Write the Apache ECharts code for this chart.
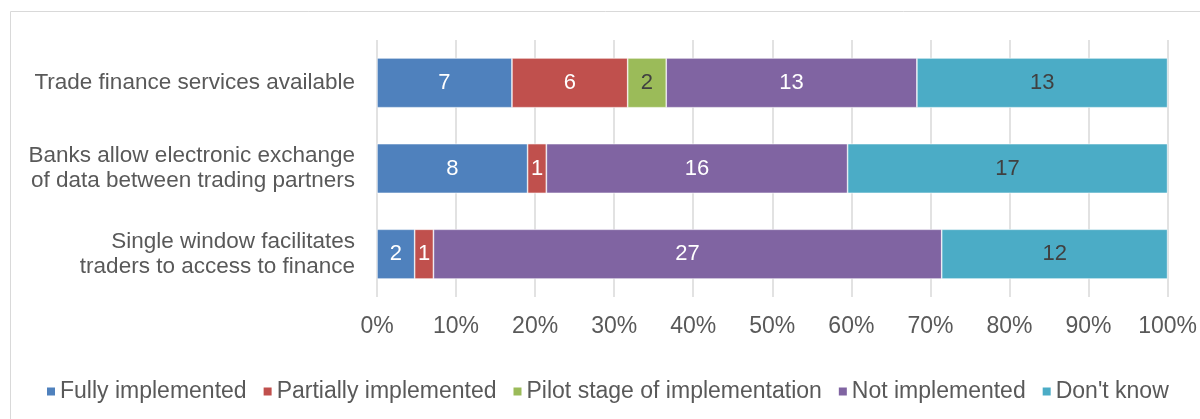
<!DOCTYPE html>
<html>
<head>
<meta charset="utf-8">
<script src="https://cdn.jsdelivr.net/npm/echarts@6/dist/echarts.min.js"></script>
<style>
  html, body { margin: 0; padding: 0; background: #fff; }
  #chart { width: 1200px; height: 419px; }
</style>
</head>
<body>
<div id="chart"></div>
<script>
// categories, top to bottom
const categories = [
  'Trade finance services available',
  'Banks allow electronic exchange\nof data between trading partners',
  'Single window facilitates\ntraders to access to finance'
]
const seriesNames = ['Fully implemented', 'Partially implemented', 'Pilot stage of implementation', 'Not implemented', "Don't know"]
// counts per category
const fully = [7, 8, 2]
const partially = [6, 1, 1]
const pilot = [2, 0, 0]
const notImpl = [13, 16, 27]
const dontKnow = [13, 17, 12]
const tickLabels = ['0%', '10%', '20%', '30%', '40%', '50%', '60%', '70%', '80%', '90%', '100%']

const colors = ['#4F81BD', '#C0504D', '#9BBB59', '#8064A2', '#4BACC6']
const labelColors = ['#ffffff', '#ffffff', '#404040', '#ffffff', '#404040']

const counts = [fully, partially, pilot, notImpl, dontKnow]
const totals = categories.map((c, i) => counts.reduce((s, arr) => s + arr[i], 0))

const chart = echarts.init(document.getElementById('chart'))

const series = counts.map((arr, k) => ({
  name: seriesNames[k],
  type: 'bar',
  stack: 'total',
  barWidth: '58%',
  data: arr.map((v, i) => ({ value: v / totals[i] * 100, count: v })),
  itemStyle: {
    color: colors[k],
    borderColor: '#ffffff',
    borderWidth: 0.6
  },
  label: {
    show: true,
    position: 'inside',
    color: labelColors[k],
    fontSize: 22,
    fontFamily: 'Liberation Sans, Arial, sans-serif',
    formatter: p => p.data.count ? String(p.data.count) : ''
  }
}))

const option = {
  animation: false,
  textStyle: { fontFamily: 'Liberation Sans, Arial, sans-serif' },
  graphic: [{
    type: 'rect',
    shape: { x: 10.5, y: 11.5, width: 1220, height: 500 },
    style: { fill: 'none', stroke: '#d9d9d9', lineWidth: 1 },
    silent: true
  }],
  grid: {
    left: 377,
    right: 31,
    top: 40,
    bottom: 122
  },
  legend: {
    data: seriesNames,
    top: 375,
    left: 40,
    itemWidth: 10,
    itemHeight: 10,
    itemGap: 15,
    icon: 'rect',
    textStyle: {
      color: '#595959',
      fontSize: 23,
      padding: [0, 0, 0, -1]
    }
  },
  xAxis: {
    type: 'value',
    min: 0,
    max: 100,
    interval: 10,
    axisLine: { show: false },
    axisTick: { show: false },
    axisLabel: {
      color: '#595959',
      fontSize: 23,
      margin: 18,
      formatter: v => tickLabels[Math.round(v / 10)]
    },
    splitLine: { lineStyle: { color: '#d9d9d9', width: 1.5 } }
  },
  yAxis: {
    type: 'category',
    inverse: true,
    data: categories,
    axisLine: { show: false },
    axisTick: { show: false },
    axisLabel: {
      color: '#595959',
      fontSize: 22.5,
      lineHeight: 25,
      margin: 22,
      align: 'right'
    }
  },
  series: series
}

chart.setOption(option)
</script>
</body>
</html>
